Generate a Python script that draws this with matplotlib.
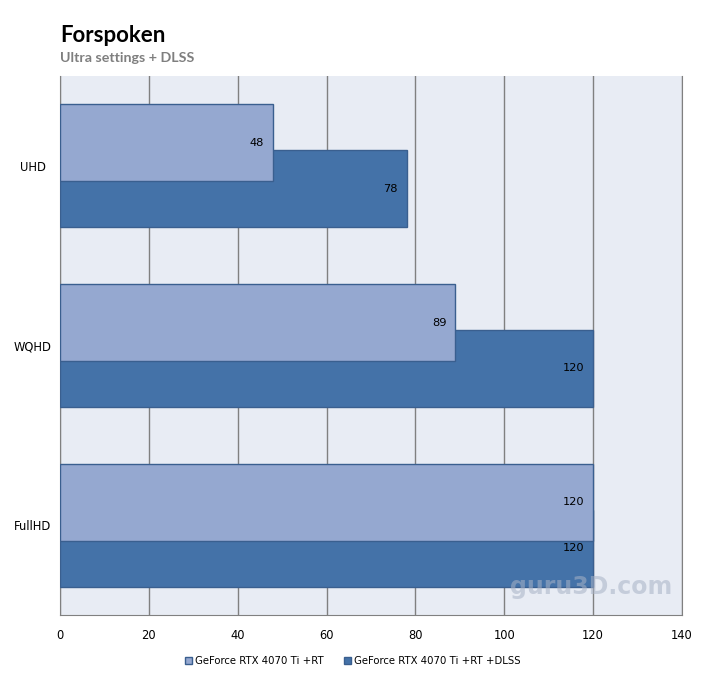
import matplotlib.pyplot as plt
import numpy as np

categories = ["UHD", "WQHD", "FullHD"]
rt_values = [48, 89, 120]
dlss_values = [78, 120, 120]
series_names = ["GeForce RTX 4070 Ti +RT", "GeForce RTX 4070 Ti +RT +DLSS"]
xticks = [0, 20, 40, 60, 80, 100, 120, 140]

light = "#95a8d0"
dark = "#4472a8"
edge = "#3a5f8f"

fig = plt.figure(figsize=(7.08, 6.82), dpi=100)
ax = fig.add_axes([60/708, 1-615/682, 622/708, 539/682])
ax.set_facecolor("#e8ecf4")

y = np.arange(len(categories))
h = 0.43
off = 0.128
# dark series underneath, light one drawn on top
b2 = ax.barh(y + off, dlss_values, height=h, color=dark, edgecolor=edge, linewidth=1, zorder=3)
b1 = ax.barh(y - off, rt_values, height=h, color=light, edgecolor=edge, linewidth=1, zorder=4)

for bars, vals in ((b1, rt_values), (b2, dlss_values)):
    for r, v in zip(bars, vals):
        ax.text(v - 2.0, r.get_y() + r.get_height()/2, str(v), ha="right", va="center",
                fontsize=8.2, family="DejaVu Sans", color="black", zorder=5)

ax.set_xlim(0, 140)
ax.set_ylim(2.5, -0.5)
ax.set_xticks(xticks)
ax.set_yticks(y)
ax.set_yticklabels(categories, ha="center")
ax.tick_params(length=0, labelsize=8.3)
ax.tick_params(axis="y", pad=19.5)
ax.tick_params(axis="x", pad=10)
ax.xaxis.grid(True, color="#808080", linewidth=1, zorder=1)
ax.set_axisbelow(True)
for s in ("left", "bottom", "right"):
    ax.spines[s].set_color("#808080")
ax.spines["top"].set_visible(False)

fig.text(60/708, 1-35/682, "Forspoken", fontsize=16, fontweight="bold", family="Lato", va="center")
fig.text(60/708, 1-58/682, "Ultra settings + DLSS", fontsize=10.3, fontweight="bold", family="Lato",
         color="#7f7f7f", va="center")

ax.text(0.985, 0.03, "guru3D.com", transform=ax.transAxes, ha="right", va="bottom",
        fontsize=17, fontweight="bold", color="#a8b2c6", alpha=0.55, zorder=6, family="DejaVu Sans")

handles = [plt.Rectangle((0, 0), 1, 1, facecolor=light, edgecolor=edge),
           plt.Rectangle((0, 0), 1, 1, facecolor=dark, edgecolor=edge)]
fig.legend(handles, series_names, loc="center", bbox_to_anchor=(353/708, 1-661/682), ncol=2,
           frameon=False, fontsize=7.3, handlelength=0.7, handleheight=0.7, handletextpad=0.3,
           columnspacing=2.0)

fig.savefig("out.png", dpi=100, facecolor="white")
